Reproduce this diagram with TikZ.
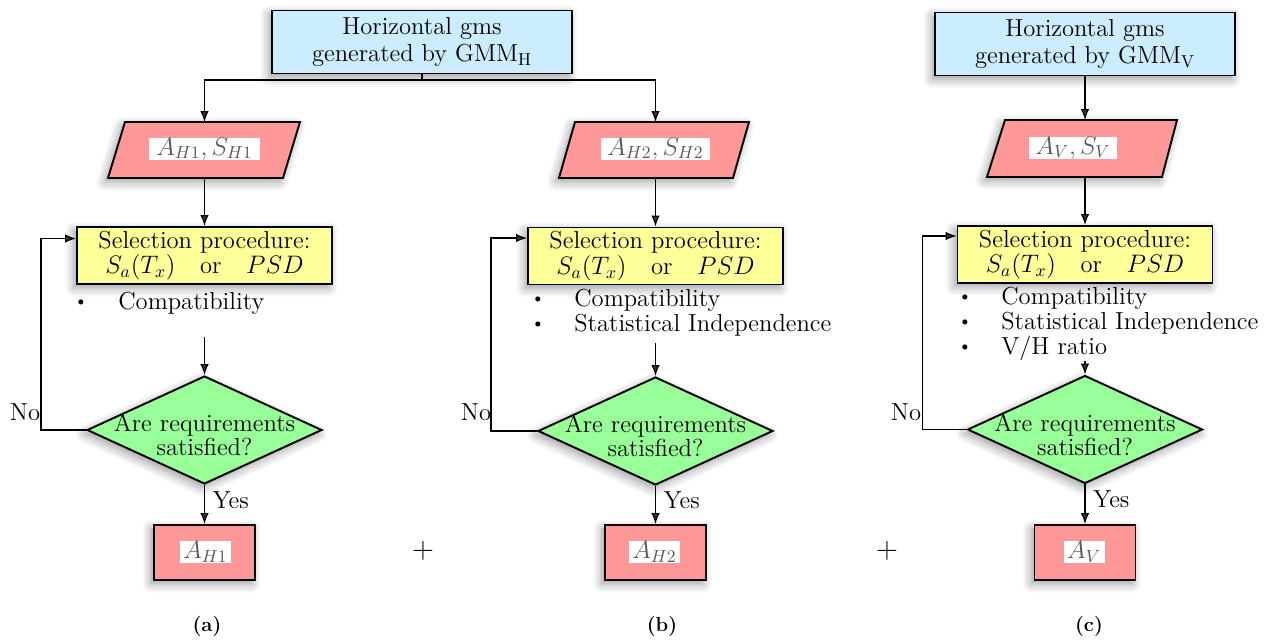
\documentclass[tikz,border=0pt]{standalone}
\usetikzlibrary{shapes.geometric,arrows.meta,shadows.blur}
\definecolor{topblue}{RGB}{204,236,255}
\definecolor{pinkc}{RGB}{255,153,153}
\definecolor{yellowc}{RGB}{255,255,153}
\definecolor{greenc}{RGB}{153,255,153}
\begin{document}
\begin{tikzpicture}[x=0.02cm,y=-0.02cm,
  txt/.style={font=\fontsize{14}{13.5}\selectfont},
  shad/.style={blur shadow={shadow blur steps=10,shadow blur radius=1.2ex,shadow xshift=-0.4ex,shadow yshift=-0.5ex,shadow opacity=40}},
  topbox/.style={draw,line width=1.1pt,fill=topblue,minimum width=6cm,minimum height=1.26cm,align=center,font=\fontsize{14}{15.3}\selectfont,inner sep=0pt,shad},
  parafill/.style={draw,line width=1.1pt,fill=pinkc,shad},
  lab/.style={fill=white,text=black!65,inner sep=0pt,font=\fontsize{14}{14}\selectfont},
  selbox/.style={draw,line width=1.1pt,fill=yellowc,minimum width=5.1cm,minimum height=1.14cm,align=center,txt,inner sep=0pt,shad},
  dia/.style={diamond,draw,line width=1.1pt,fill=greenc,minimum width=4.7cm,minimum height=2.16cm,inner sep=0pt,shad},
  resbox/.style={draw,line width=1.1pt,fill=pinkc,minimum width=2.02cm,minimum height=1.1cm,inner sep=0pt,shad},
  arr/.style={line width=0.65pt,-{Latex[length=2.2mm,width=1.7mm]}},
  ln/.style={line width=0.65pt},
  bul/.style={font=\fontsize{10}{10}\selectfont,inner sep=0pt},
  btxt/.style={txt,anchor=west,inner sep=0pt},
  capt/.style={font=\fontsize{11.5}{12}\selectfont\bfseries}]
\useasboundingbox (0,0) rectangle (1276,642);

% ---------- top boxes ----------
\node[topbox] (ta) at (422,42) {Horizontal gms\\generated by GMM\textsubscript{H}};
\node[topbox] (tc) at (1085,44) {Horizontal gms\\generated by GMM\textsubscript{V}};

% ---------- parallelograms ----------
\draw[parafill] (125,122) -- (300,122) -- (283,178) -- (108,178) -- cycle;
\coordinate (pan) at (204.5,122); \coordinate (pas) at (204.5,178);
\node[lab,minimum width=2.22cm,minimum height=0.44cm] (pal) at (204.5,149) {$A_{H1},S_{H1}$};
\draw[parafill] (575,122) -- (749,122) -- (733,178) -- (559,178) -- cycle;
\coordinate (pbn) at (655.5,122); \coordinate (pbs) at (655.5,178);
\node[lab,minimum width=2.18cm,minimum height=0.44cm] (pbl) at (655.5,149) {$A_{H2},S_{H2}$};
\draw[parafill] (1005,120) -- (1177,120) -- (1162,177) -- (987,177) -- cycle;
\coordinate (pcn) at (1085,120); \coordinate (pcs) at (1085,177);
\node[lab,minimum width=1.76cm,minimum height=0.44cm] (pcl) at (1073,148) {$A_{V},S_{V}$};

% ---------- selection boxes ----------
\node[selbox] (sa) at (204.5,255.5) {Selection procedure:\\$S_a(T_x)$\quad or\quad $PSD$};
\node[selbox] (sb) at (655.5,256) {Selection procedure:\\$S_a(T_x)$\quad or\quad $PSD$};
\node[selbox] (sc) at (1085,254.5) {Selection procedure:\\$S_a(T_x)$\quad or\quad $PSD$};

% ---------- bullet lists ----------
\node[bul] (ba1) at (81,303) {\textbullet};
\node[btxt] (ta1) at (118,303) {Compatibility};
\node[bul] (bb1) at (538,300) {\textbullet};
\node[btxt] (tb1) at (574,300) {Compatibility};
\node[bul] (bb2) at (538,325) {\textbullet};
\node[btxt] (tb2) at (574,325) {Statistical Independence};
\node[bul] (bc1) at (965,298) {\textbullet};
\node[btxt] (tc1) at (1001,298) {Compatibility};
\node[bul] (bc2) at (965,323) {\textbullet};
\node[btxt] (tc2) at (1001,323) {Statistical Independence};
\node[bul] (bc3) at (965,348) {\textbullet};
\node[btxt] (tc3) at (1001,348) {V/H ratio};

% ---------- diamonds ----------
\node[dia] (da) at (204.5,430) {};
\node[txt,align=center,inner sep=0pt] (dat) at (204.5,435) {Are requirements\\satisfied?};
\node[dia] (db) at (655.5,431) {};
\node[txt,align=center,inner sep=0pt] (dbt) at (655.5,436) {Are requirements\\satisfied?};
\node[dia] (dc) at (1085,429.5) {};
\node[txt,align=center,inner sep=0pt] (dct) at (1085,434.5) {Are requirements\\satisfied?};

% ---------- result boxes ----------
\node[resbox] (ra) at (204.5,552.5) {};
\node[lab,minimum width=1.02cm,minimum height=0.42cm] (ral) at (205.5,552) {$A_{H1}$};
\node[resbox] (rb) at (655.5,552.5) {};
\node[lab,minimum width=1.02cm,minimum height=0.42cm] (rbl) at (654.5,552) {$A_{H2}$};
\node[resbox] (rc) at (1085,552.5) {};
\node[lab,minimum width=0.82cm,minimum height=0.42cm] (rcl) at (1084,552) {$A_{V}$};

% ---------- plus signs and captions ----------
\node[font=\fontsize{18}{18}\selectfont] (p1) at (423,551) {$+$};
\node[font=\fontsize{18}{18}\selectfont] (p2) at (887,551) {$+$};
\node[capt] (ca) at (207,626) {(a)};
\node[capt] (cb) at (662,626) {(b)};
\node[capt] (cc) at (1089,626) {(c)};

% ---------- connectors ----------
\coordinate (j) at (422,80);
\draw[ln] (ta.south) -- (j);
\draw[arr] (j) -| (pan);
\draw[arr] (j) -| (pbn);
\draw[arr] (tc.south) -- (pcn);

\draw[arr] (pas) -- (sa.north);
\draw[arr] (pbs) -- (sb.north);
\draw[arr] (pcs) -- (sc.north);

\coordinate (sta) at (204.5,337);
\coordinate (stb) at (655.5,343);
\coordinate (stc) at (1085,361);
\draw[arr] (sta) -- (da.north);
\draw[arr] (stb) -- (db.north);
\draw[arr] (stc) -- (dc.north);

\draw[arr] (da.west) -- ++(-45,0) |- ([yshift=0.34cm]sa.west);
\draw[arr] (db.west) -- ++(-46,0) |- ([yshift=0.36cm]sb.west);
\draw[arr] (dc.west) -- ++(-44,0) |- ([yshift=0.37cm]sc.west);
\node[txt] (na) at (25,412) {No};
\node[txt] (nb) at (476,412) {No};
\node[txt] (nc) at (906,412) {No};

\draw[arr] (da.south) -- (ra.north) node[txt,pos=0.38,right=1pt] {Yes};
\draw[arr] (db.south) -- (rb.north) node[txt,pos=0.38,right=1pt] {Yes};
\draw[arr] (dc.south) -- (rc.north) node[txt,pos=0.38,right=1pt] {Yes};
\end{tikzpicture}
\end{document}
